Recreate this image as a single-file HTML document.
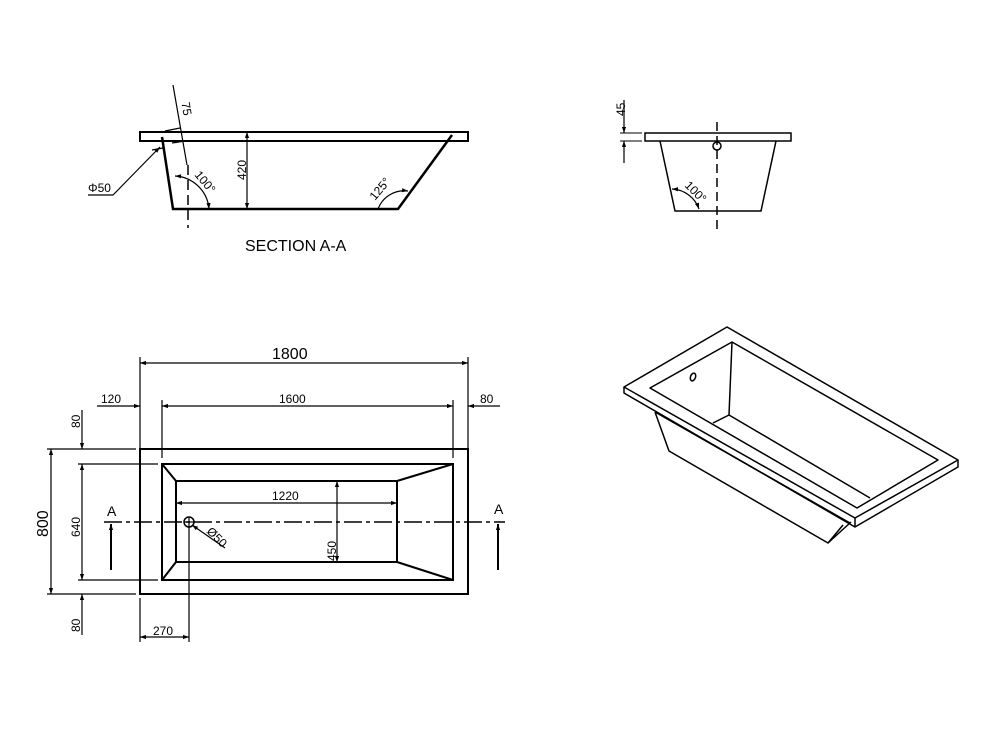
<!DOCTYPE html>
<html><head><meta charset="utf-8"><style>
html,body{margin:0;padding:0;background:#fff;}
svg{display:block}
text{font-family:"Liberation Sans",sans-serif;fill:#000}
</style></head><body>
<svg width="1000" height="750" viewBox="0 0 1000 750" xmlns="http://www.w3.org/2000/svg">
<defs>
<marker id="ar" viewBox="0 0 10 10" refX="10" refY="5" markerWidth="12" markerHeight="6" orient="auto-start-reverse" markerUnits="userSpaceOnUse"><path d="M0,1.5 L10,5 L0,8.5 z" fill="#000"/></marker>
</defs>
<g stroke="#000" fill="none" stroke-width="1.2">
<!-- SECTION A-A -->
<rect x="140" y="132" width="328" height="9" stroke-width="2"/>
<path d="M162,137 L173,209 L398,209 L452,135" stroke-width="2.5"/>
<line x1="162" y1="132" x2="452" y2="132" stroke-width="2"/>
<line x1="188" y1="165" x2="188" y2="228" stroke-dasharray="10,5" stroke-width="1.5"/>
<line x1="247" y1="132" x2="247" y2="209" marker-start="url(#ar)" marker-end="url(#ar)"/>
<path d="M175,176 A36,36 0 0 1 209,209" marker-start="url(#ar)" marker-end="url(#ar)"/>
<path d="M378,209 A28,28 0 0 1 408,191" marker-end="url(#ar)"/>
<line x1="173" y1="85" x2="187" y2="165"/>
<line x1="165" y1="131" x2="180" y2="128"/>
<line x1="172" y1="143" x2="185" y2="141"/>
<line x1="152" y1="150" x2="163" y2="148"/>
<path d="M88,195 L113,195 L160,147" marker-end="url(#ar)"/>
</g>
<text x="188" y="95" font-size="12" transform="rotate(80 180 95)">75</text>
<text x="88" y="192" font-size="12">Φ50</text>
<text x="0" y="0" font-size="12" transform="translate(246,180) rotate(-90)">420</text>
<text x="0" y="0" font-size="12" transform="translate(194,175) rotate(50)">100°</text>
<text x="0" y="0" font-size="12" transform="translate(375,201) rotate(-50)">125°</text>
<text x="245" y="251" font-size="16">SECTION A-A</text>

<!-- END VIEW -->
<g stroke="#000" fill="none" stroke-width="1.5">
<rect x="645" y="133" width="146" height="8"/>
<path d="M660,141 L675,211 L761,211 L776,141"/>
<line x1="717" y1="122" x2="717" y2="230" stroke-dasharray="9,5"/>
<circle cx="717" cy="146" r="4"/>
<line x1="624" y1="100" x2="624" y2="133" stroke-width="1.2" marker-end="url(#ar)"/>
<line x1="624" y1="163" x2="624" y2="141" stroke-width="1.2" marker-end="url(#ar)"/>
<line x1="620" y1="133" x2="642" y2="133" stroke-width="1"/>
<line x1="620" y1="141" x2="642" y2="141" stroke-width="1"/>
<path d="M672,189 A30,30 0 0 1 699,209" stroke-width="1.2" marker-start="url(#ar)" marker-end="url(#ar)"/>
</g>
<text x="0" y="0" font-size="12" transform="translate(625,116) rotate(-90)">45</text>
<text x="0" y="0" font-size="12" transform="translate(684,186) rotate(45)">100°</text>

<!-- PLAN VIEW -->
<g stroke="#000" fill="none" stroke-width="2">
<rect x="140" y="449" width="328" height="145"/>
<rect x="162" y="464" width="291" height="116"/>
<rect x="176" y="481" width="221" height="81"/>
<path d="M162,464 L176,481 M162,580 L176,562 M453,464 L397,481 M453,580 L397,562"/>
</g>
<g stroke="#000" fill="none" stroke-width="1.2">
<line x1="140" y1="357" x2="140" y2="449"/><line x1="468" y1="357" x2="468" y2="449"/>
<line x1="140" y1="363" x2="468" y2="363" marker-start="url(#ar)" marker-end="url(#ar)"/>
<line x1="162" y1="400" x2="162" y2="458"/><line x1="453" y1="400" x2="453" y2="458"/>
<line x1="162" y1="406" x2="453" y2="406" marker-start="url(#ar)" marker-end="url(#ar)"/>
<line x1="97" y1="406" x2="140" y2="406" marker-end="url(#ar)"/>
<line x1="500" y1="406" x2="468" y2="406" marker-end="url(#ar)"/>
<line x1="47" y1="449" x2="136" y2="449"/><line x1="47" y1="594" x2="136" y2="594"/>
<line x1="78" y1="464" x2="158" y2="464"/><line x1="78" y1="580" x2="158" y2="580"/>
<line x1="51" y1="449" x2="51" y2="594" marker-start="url(#ar)" marker-end="url(#ar)"/>
<line x1="82" y1="464" x2="82" y2="580" marker-start="url(#ar)" marker-end="url(#ar)"/>
<line x1="82" y1="410" x2="82" y2="449" marker-end="url(#ar)"/>
<line x1="82" y1="635" x2="82" y2="594" marker-end="url(#ar)"/>
<line x1="104" y1="522" x2="505" y2="522" stroke-width="1.5" stroke-dasharray="18,4,4,4"/>
<line x1="111" y1="570" x2="111" y2="524" stroke-width="2" marker-end="url(#ar)"/>
<line x1="498" y1="570" x2="498" y2="524" stroke-width="2" marker-end="url(#ar)"/>
<circle cx="189" cy="522" r="5" stroke-width="1.5"/>
<line x1="184" y1="522" x2="194" y2="522"/><line x1="189" y1="517" x2="189" y2="527"/>
<line x1="225" y1="548" x2="192" y2="525" marker-end="url(#ar)"/>
<line x1="189" y1="527" x2="189" y2="642"/>
<line x1="140" y1="598" x2="140" y2="642"/>
<line x1="140" y1="637" x2="189" y2="637" marker-start="url(#ar)" marker-end="url(#ar)"/>
<line x1="176" y1="503" x2="397" y2="503" marker-start="url(#ar)" marker-end="url(#ar)"/>
<line x1="337" y1="481" x2="337" y2="562" marker-start="url(#ar)" marker-end="url(#ar)"/>
</g>
<text x="272" y="359" font-size="16">1800</text>
<text x="279" y="403" font-size="12">1600</text>
<text x="101" y="403" font-size="12">120</text>
<text x="480" y="403" font-size="12">80</text>
<text x="272" y="500" font-size="12">1220</text>
<text x="0" y="0" font-size="16" transform="translate(48,537) rotate(-90)">800</text>
<text x="0" y="0" font-size="12" transform="translate(80,537) rotate(-90)">640</text>
<text x="0" y="0" font-size="12" transform="translate(80,428) rotate(-90)">80</text>
<text x="0" y="0" font-size="12" transform="translate(80,632) rotate(-90)">80</text>
<text x="0" y="0" font-size="12" transform="translate(336,561) rotate(-90)">450</text>
<text x="0" y="0" font-size="12" transform="translate(206,532) rotate(45)">Ø50</text>
<text x="153" y="635" font-size="12">270</text>
<text x="107" y="516" font-size="14">A</text>
<text x="494" y="514" font-size="14">A</text>

<!-- ISO VIEW -->
<g stroke="#000" fill="none" stroke-width="1.5" stroke-linejoin="round">
<path d="M624,387 L727,327 L958,460 L855,518 Z"/>
<path d="M624,387 L624,393 L855,527 L958,467 L958,460"/>
<line x1="855" y1="518" x2="855" y2="527"/>
<path d="M650,388 L732,342 L938,460 L857,508 Z"/>
<path d="M732,342 L729,415 L713,423"/>
<line x1="729" y1="415" x2="870" y2="498"/>
<path d="M655,412 L669,451 L828,543 L851,522"/>
<line x1="655" y1="412" x2="850" y2="523"/>
<line x1="828" y1="543" x2="843" y2="525"/>
<ellipse cx="693" cy="377" rx="2.5" ry="4" transform="rotate(20 693 377)"/>
</g>
</svg>
</body></html>
